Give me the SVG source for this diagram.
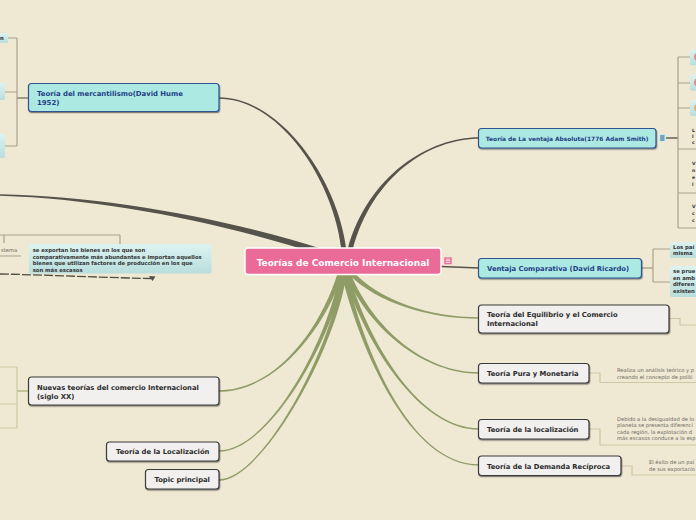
<svg xmlns="http://www.w3.org/2000/svg" width="696" height="520" viewBox="0 0 696 520">
<defs>
<linearGradient id="cy" x1="0" y1="0" x2="0" y2="1"><stop offset="0" stop-color="#DDF3F1"/><stop offset="1" stop-color="#B8DEDC"/></linearGradient>
<filter id="sh" x="-10%" y="-30%" width="120%" height="170%"><feDropShadow dx="0.6" dy="1.2" stdDeviation="0.7" flood-color="#000" flood-opacity="0.45"/></filter>
<marker id="ah" viewBox="0 0 10 10" refX="8" refY="5" markerWidth="5" markerHeight="5" orient="auto"><path d="M0,0 L10,5 L0,10 Z" fill="#4E4C44"/></marker>
<style>
.dk{fill:#56544A}
.gr{fill:#8F9C66}
.br{fill:none;stroke:#A8A28B;stroke-width:1.2}
.bg{fill:none;stroke:#CBC9A2;stroke-width:1.2}
.cyan{fill:#ADE9E3;stroke:#2D5290;stroke-width:1.2}
.gray{fill:#F1F0EE;stroke:#3A3A3A;stroke-width:1.2}
.t{font-family:"DejaVu Sans",Verdana,sans-serif;font-weight:bold}
.tb{fill:#1E3F86}
.tk{fill:#2B2B2B}
.nt{font-family:"DejaVu Sans",Verdana,sans-serif;font-size:5.2px;fill:#6A6860}
.nb{font-family:"DejaVu Sans",Verdana,sans-serif;font-weight:bold;font-size:5.3px;fill:#333}
.fr{font-family:"DejaVu Sans",Verdana,sans-serif;font-weight:bold;font-size:4.6px;fill:#333}
</style>
</defs>
<rect width="696" height="520" fill="#EFE8D3"/>

<g id="connectors">
  <path class="dk" d="M0,194.3 C110,196.7 230,219.5 326,250.2 L324,255.8 C228,224.5 110,199.3 0,195.8 Z"/>
  <path class="dk" d="M219,97.25 C280,97.25 338,179 346.5,250 L341.5,250 C334,181 280,98.75 219,98.75 Z"/>
  <path class="dk" d="M479,137.25 C430,137.25 368,174.5 347.6,249.4 L352.4,250.6 C372,175.5 430,138.75 479,138.75 Z"/>
  <path d="M441,266.5 L479,268" stroke="#56544A" stroke-width="1.5" fill="none"/>
  <path class="gr" d="M479,317.25 C430,317.3 379.3,300.8 351.8,270.3 L348.2,273.7 C376.7,303.2 430,318.7 479,318.75 Z"/>
  <path class="gr" d="M479,372.25 C425,372.3 373.7,329.3 350.3,273 L345.7,275 C370.3,330.7 425,373.7 479,373.75 Z"/>
  <path class="gr" d="M479,428.25 C420,428.3 369.7,344.5 348.4,273.3 L343.6,274.7 C366.3,345.5 420,429.7 479,429.75 Z"/>
  <path class="gr" d="M479,464.25 C410,464.3 363.8,349.6 346.4,273.4 L341.6,274.6 C360.3,350.4 410,465.7 479,465.75 Z"/>
  <path class="gr" d="M219,390.25 C275,390.3 320.3,329.45 337.6,273.2 L342.4,274.8 C323.7,330.55 275,391.7 219,391.75 Z"/>
  <path class="gr" d="M219,450.25 C268,450.3 326.2,344.65 339.6,273.5 L344.5,274.5 C329.8,345.35 268,451.7 219,451.75 Z"/>
  <path class="gr" d="M219,479.25 C262,479.3 332.2,349.8 341.5,273.7 L346.5,274.3 C335.8,350.2 262,480.7 219,480.75 Z"/>

  <path d="M29,98 H17" stroke="#7E7A68" stroke-width="1.4" fill="none"/>
  <path class="br" d="M17,38 V146 M8,38 H17 M5,92 H17 M5,146 H17"/>
  <path class="br" d="M0,235 H120 M4,235 V243 M120,235 V244 M0,256 H21"/>
  <path d="M0,274 C50,275 100,277.5 151,278.5" stroke="#4E4C44" stroke-width="1.3" fill="none" stroke-dasharray="9,2"/>
  <path d="M149,276 L155.5,276.5 L152.5,281 Z" fill="#4E4C44"/>
  <path d="M29,391 H17" stroke="#A8B07C" stroke-width="1.3" fill="none"/>
  <path class="bg" d="M17,367 V428 M0,367 H17 M0,404 H17 M0,428 H17"/>
  <path d="M666,138 H678" stroke="#4E4C44" stroke-width="1.3" fill="none"/>
  <path class="br" d="M678,57 V228 M678,57 H690 M678,83 H690 M678,108 H690 M678,149 H696 M678,193 H696 M678,228 H696"/>
  <path d="M642,268 H653" stroke="#A8A28B" stroke-width="1.4" fill="none"/>
  <path class="br" d="M653,249 V282 M653,249 H670 M653,282 H670"/>
  <path class="bg" d="M669,318.5 H680 V325 H696"/>
  <path class="bg" d="M589,373 H600 V382.5 H696"/>
  <path class="bg" d="M589,429 H600 V445 H696"/>
  <path class="bg" d="M621,466 H632 V475 H696"/>
</g>

<g id="central">
  <rect x="245" y="248" width="196" height="26.5" rx="3" fill="#EA6B98" stroke="#FFFFFF" stroke-width="1.4"/>
  <text class="t" x="343" y="265.5" font-size="9" fill="#FFFFFF" text-anchor="middle">Teorías de Comercio Internacional</text>
  <rect x="444.3" y="257.3" width="7.4" height="7" fill="#EA6B98"/>
  <path d="M445.8,259.2 H450.2 M445.8,260.8 H450.2 M445.8,262.4 H450.2" stroke="#FFF" stroke-width="0.8"/>
</g>

<g id="mercantilismo">
  <rect x="28.5" y="83.5" width="190.5" height="28" rx="3" class="cyan" filter="url(#sh)"/>
  <text class="t tb" font-size="6.9" x="37" y="96">Teoría del mercantilismo(David Hume</text>
  <text class="t tb" font-size="6.9" x="37" y="105">1952)</text>
</g>
<g id="merc-child-1">
  <rect x="-4" y="33" width="12" height="10" rx="1.5" fill="url(#cy)"/>
  <text class="t tk" font-size="5.3" x="0" y="40">n</text>
</g>
<g id="merc-child-2"><rect x="-4" y="83" width="9" height="17" rx="1.5" fill="url(#cy)"/></g>
<g id="merc-child-3"><rect x="-4" y="134" width="9" height="24" rx="1.5" fill="url(#cy)"/></g>

<g id="note-sistema">
  <text class="nt" x="1" y="252">stema</text>
</g>
<g id="note-exportan">
  <rect x="29" y="244" width="182.5" height="29.5" rx="2" fill="url(#cy)"/>
  <text class="nb" x="32.7" y="252">se exportan los bienes en los que son</text>
  <text class="nb" x="32.7" y="258.6">comparativamente más abundantes e importan aquellos</text>
  <text class="nb" x="32.7" y="265.2">bienes que utilizan factores de producción en los que</text>
  <text class="nb" x="32.7" y="271.8">son más escasos</text>
</g>

<g id="nuevas">
  <rect x="28.5" y="377" width="190.5" height="28" rx="3" class="gray" filter="url(#sh)"/>
  <text class="t tk" font-size="6.8" x="37" y="389.5">Nuevas teorías del comercio Internacional</text>
  <text class="t tk" font-size="6.8" x="37" y="398.5">(siglo XX)</text>
</g>
<g id="localizacion-left">
  <rect x="106.5" y="442" width="112.5" height="19" rx="3" class="gray" filter="url(#sh)"/>
  <text class="t tk" font-size="6.8" x="162.7" y="454" text-anchor="middle">Teoría de la Localización</text>
</g>
<g id="topic">
  <rect x="145.5" y="469.5" width="73.5" height="19.5" rx="3" class="gray" filter="url(#sh)"/>
  <text class="t tk" font-size="6.8" x="182.2" y="482" text-anchor="middle">Topic principal</text>
</g>

<g id="ventaja-absoluta">
  <rect x="478.5" y="128.5" width="177.5" height="19.5" rx="3" class="cyan" filter="url(#sh)"/>
  <text class="t tb" font-size="5.9" x="567.2" y="140.5" text-anchor="middle">Teoría de La ventaja Absoluta(1776 Adam Smith)</text>
  <rect x="659" y="134" width="6.7" height="8" rx="1" fill="#C6EFEC"/>
  <path d="M660.2,136 H664.5 M660.2,138 H664.5 M660.2,140 H664.5" stroke="#1E3F86" stroke-width="0.9"/>
</g>
<g id="va-child-1"><rect x="690" y="49.3" width="12" height="16" rx="2" fill="url(#cy)"/><circle cx="698" cy="57" r="4" fill="#E08A8A"/></g>
<g id="va-child-2"><rect x="690" y="74.3" width="12" height="16.5" rx="2" fill="url(#cy)"/><circle cx="698" cy="82.5" r="4" fill="#E08A8A"/></g>
<g id="va-child-3"><rect x="690" y="100" width="12" height="16" rx="2" fill="url(#cy)"/><circle cx="698" cy="108" r="4" fill="#E8B070"/></g>
<g id="va-notes">
  <text class="fr" x="692" y="132">L</text>
  <text class="fr" x="692" y="138">l</text>
  <text class="fr" x="692" y="144">c</text>
  <text class="fr" x="692" y="165">V</text>
  <text class="fr" x="692" y="172">n</text>
  <text class="fr" x="692" y="179">e</text>
  <text class="fr" x="692" y="186">l</text>
  <text class="fr" x="692" y="208">V</text>
  <text class="fr" x="692" y="215">c</text>
  <text class="fr" x="692" y="222">c</text>
</g>

<g id="ventaja-comparativa">
  <rect x="478.5" y="258.5" width="163" height="19.5" rx="3" class="cyan" filter="url(#sh)"/>
  <text class="t tb" font-size="6.8" x="487" y="271">Ventaja Comparativa (David Ricardo)</text>
</g>
<g id="vc-note-1">
  <rect x="670" y="242" width="40" height="16" rx="2" fill="url(#cy)"/>
  <text class="nb" x="673" y="248.5">Los paí</text>
  <text class="nb" x="673" y="254.5">misma</text>
</g>
<g id="vc-note-2">
  <rect x="670" y="266" width="40" height="31" rx="2" fill="url(#cy)"/>
  <text class="nb" x="673" y="273">se prue</text>
  <text class="nb" x="673" y="279.5">en amb</text>
  <text class="nb" x="673" y="286">diferen</text>
  <text class="nb" x="673" y="292.5">existen</text>
</g>

<g id="equilibrio">
  <rect x="478.5" y="305" width="190.5" height="28" rx="3" class="gray" filter="url(#sh)"/>
  <text class="t tk" font-size="6.8" x="487" y="317">Teoría del Equilibrio y el Comercio</text>
  <text class="t tk" font-size="6.8" x="487" y="326.3">Internacional</text>
</g>
<g id="pura">
  <rect x="478.5" y="363.5" width="110.5" height="19.5" rx="3" class="gray" filter="url(#sh)"/>
  <text class="t tk" font-size="6.8" x="487" y="376">Teoría Pura y Monetaria</text>
</g>
<g id="pura-note">
  <text class="nt" x="617" y="371.5">Realiza un análisis teórico y p</text>
  <text class="nt" x="617" y="378.5">creando el concepto de políti</text>
</g>
<g id="localizacion-right">
  <rect x="478.5" y="419.5" width="110.5" height="19.5" rx="3" class="gray" filter="url(#sh)"/>
  <text class="t tk" font-size="6.8" x="487" y="432">Teoría de la localización</text>
</g>
<g id="localizacion-note">
  <text class="nt" x="617" y="420.5">Debido a la desigualdad de lo</text>
  <text class="nt" x="617" y="427">planeta se presenta diferenci</text>
  <text class="nt" x="617" y="433.5">cada región, la explotación d</text>
  <text class="nt" x="617" y="440">más escasos conduce a la esp</text>
</g>
<g id="demanda">
  <rect x="478.5" y="456" width="142.5" height="19.5" rx="3" class="gray" filter="url(#sh)"/>
  <text class="t tk" font-size="6.8" x="487" y="468.5">Teoría de la Demanda Recíproca</text>
</g>
<g id="demanda-note">
  <text class="nt" x="649" y="463.5">El éxito de un paí</text>
  <text class="nt" x="649" y="470.5">de sus exportacio</text>
</g>
</svg>
